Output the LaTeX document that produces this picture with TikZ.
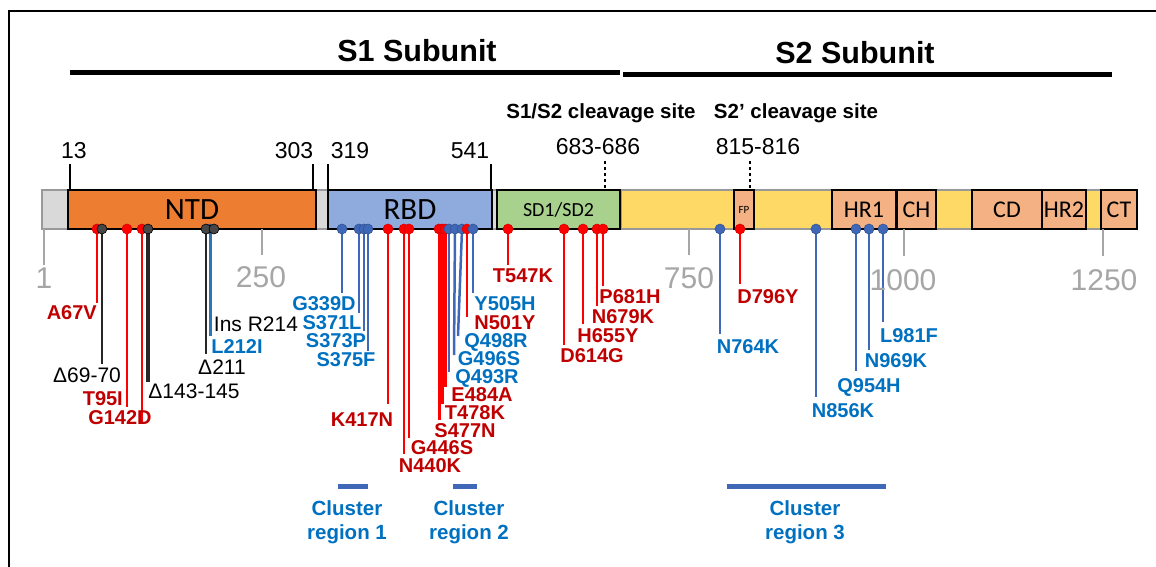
\documentclass[tikz,border=0pt]{standalone}
\usepackage{fontspec}
\setmainfont{Liberation Sans}
\newfontfamily\calf{Carlito}
\usetikzlibrary{positioning}
\definecolor{ntdc}{HTML}{ED7D31}
\definecolor{rbdc}{HTML}{8FAADC}
\definecolor{sdc}{HTML}{A9D18E}
\definecolor{s2c}{HTML}{FFD966}
\definecolor{boxc}{HTML}{F4B183}
\definecolor{bbc}{HTML}{D9D9D9}
\definecolor{rulec}{HTML}{A6A6A6}
\definecolor{redl}{HTML}{FF0000}
\definecolor{redt}{HTML}{C00000}
\definecolor{bluel}{HTML}{3F68B8}
\definecolor{bluet}{HTML}{0070C0}
\definecolor{lbluel}{HTML}{2E75B6}
\definecolor{darkl}{HTML}{262626}
\pgfdeclarelayer{stems}
\pgfsetlayers{stems,main}

\begin{document}
\begin{tikzpicture}[
    x=1pt, y=-1pt,
    subt/.style={font=\bfseries\fontsize{30.5}{30.5}\selectfont, inner sep=0pt},
    cleav/.style={font=\bfseries\fontsize{20.5}{20.5}\selectfont, inner sep=0pt},
    num/.style={font=\fontsize{23}{23}\selectfont, inner sep=0pt},
    rnum/.style={font=\fontsize{30}{30}\selectfont, text=rulec, inner sep=0pt},
    tick/.style={draw=black, line width=1.5pt},
    rtick/.style={draw=rulec, line width=2pt},
    bbone/.style={draw=gray!80, line width=1.4pt, minimum height=39pt, inner sep=0pt},
    seg/.style={draw=black, line width=1.4pt, minimum height=39pt, inner sep=0pt,
        font=\calf\fontsize{24}{24}\selectfont},
    rstem/.style={draw=redl, line width=2.5pt},
    bstem/.style={draw=bluel, line width=2.5pt},
    kstem/.style={draw=darkl, line width=2.8pt},
    rdot/.style={circle, fill=redl, draw=red!85!black, line width=0.6pt, inner sep=0pt, minimum size=10pt},
    bdot/.style={circle, fill=bluel, draw=bluel!80!black, line width=0.6pt, inner sep=0pt, minimum size=10pt},
    kdot/.style={circle, fill=darkl!85, draw=black, line width=0.6pt, inner sep=0pt, minimum size=10pt},
    rlab/.style={text=redt, font=\bfseries\fontsize{20}{20}\selectfont, inner sep=0pt,
        text height=14.5pt, text depth=0pt},
    blab/.style={text=bluet, font=\bfseries\fontsize{20}{20}\selectfont, inner sep=0pt,
        text height=14.5pt, text depth=0pt},
    klab/.style={text=black, font=\fontsize{21}{21}\selectfont, inner sep=0pt,
        text height=15pt, text depth=0pt},
    clab/.style={text=bluet, font=\bfseries\fontsize{20.5}{24}\selectfont, align=center, inner sep=0pt},
]
\useasboundingbox (0,0) rectangle (1156,567);
% ---------- frame ----------
\draw[line width=2pt] (9,567) -- (9,11) -- (1156,11);
% ---------- subunits ----------
\node[subt] (s1t) at (417,51) {S1 Subunit};
\node[subt] (s2t) at (855,53) {S2 Subunit};
\fill (70,70) rectangle (620,75);
\fill (623,72) rectangle (1112,77);
% ---------- cleavage sites and borders ----------
\node[cleav] (c1) at (601,113) {S1/S2 cleavage site};
\node[cleav] (c2) at (796,113) {S2' cleavage site};
\node[num] (n683) at (598,147) {683-686};
\node[num] (n815) at (758,147) {815-816};
\node[num] (n13)  at (74,151)  {13};
\node[num] (n303) at (294,151) {303};
\node[num] (n319) at (350,151) {319};
\node[num] (n541) at (470,151) {541};
\draw[tick] (70,164) -- (70,190);
\draw[tick] (313,164) -- (313,190);
\draw[tick] (328,164) -- (328,190);
\draw[tick] (491,164) -- (491,190);
\draw[tick, line width=2pt, dashed] (605,161) -- (605,190);
\draw[tick, line width=2pt, dashed] (750,161) -- (750,190);
% ---------- backbone and domains ----------
\node[bbone, fill=bbc, minimum width=1090pt] (bb) at (587,209.5) {};
\node[bbone, fill=s2c, minimum width=510pt] (s2) at (876,209.5) {};
\node[seg, fill=ntdc, minimum width=248pt, font=\calf\fontsize{31}{31}\selectfont] (ntd) at (192,209.5) {NTD};
\node[seg, fill=rbdc, minimum width=164pt, font=\calf\fontsize{31}{31}\selectfont] (rbd) at (410,209.5) {RBD};
\node[seg, fill=sdc, minimum width=123pt, font=\calf\fontsize{20}{20}\selectfont] (sd) at (558.5,209.5) {SD1/SD2};
\node[seg, fill=boxc, minimum width=20pt, font=\calf\fontsize{11}{11}\selectfont] (fp) at (744,209.5) {FP};
\node[seg, fill=boxc, minimum width=64pt] (hr1) at (864,209.5) {HR1};
\node[seg, fill=boxc, minimum width=39pt] (ch)  at (916.5,209.5) {CH};
\node[seg, fill=boxc, minimum width=70pt] (cd)  at (1007,209.5) {CD};
\node[seg, fill=boxc, minimum width=44pt] (hr2) at (1064,209.5) {HR2};
\node[seg, fill=boxc, minimum width=36pt] (ct)  at (1119,209.5) {CT};
% ---------- residue ruler ----------
\draw[rtick] (44,229) -- (44,265);
\draw[rtick] (262,229) -- (262,255);
\draw[rtick] (689,229) -- (689,255);
\draw[rtick] (904,229) -- (904,256);
\draw[rtick] (1103,229) -- (1103,256);
\node[rnum] (r1)    at (44,278)   {1};
\node[rnum] (r250)  at (261,277)  {250};
\node[rnum] (r750)  at (689,278)  {750};
\node[rnum] (r1000) at (903,280)  {1000};
\node[rnum] (r1250) at (1104,280) {1250};
% ---------- NTD mutations ----------
\node[rdot] (d67)  at (97,229)  {}; \coordinate (e67)  at (97,303);  \node[rlab, anchor=east] (l67) at (97,312) {A67V};
\node[kdot] (d69)  at (102,229) {}; \coordinate (e69)  at (102,364); \node[klab] (l69)  at (87,375)  {Δ69-70};
\node[rdot] (d95)  at (127,229) {}; \coordinate (e95)  at (127,407); \node[rlab, anchor=east] (l95) at (123,398) {T95I};
\node[rdot] (d142) at (142,229) {}; \coordinate (e142) at (142,423); \node[rlab] (l142) at (120,417) {G142D};
\node[kdot] (d143) at (148,229) {}; \coordinate (e143) at (148,382); \node[klab] (l143) at (194,391) {Δ143-145};
\node[bdot] (d212) at (210,229) {}; \coordinate (e212) at (210,336); \node[blab] (l212) at (237,346) {L212I};
\node[kdot] (d211) at (206,229) {}; \coordinate (e211) at (206,354); \node[klab] (l211) at (222,367) {Δ211};
\node[kdot] (d214) at (214,229) {};                                    \node[klab] (l214) at (256,324) {Ins R214};
% ---------- RBD mutations ----------
\node[bdot] (d339) at (342,229) {}; \coordinate (e339) at (342,293); \node[blab] (l339) at (324,303) {G339D};
\node[bdot] (d371) at (359,229) {}; \coordinate (e371) at (359,313); \node[blab] (l371) at (332,322) {S371L};
\node[bdot] (d373) at (364,229) {}; \coordinate (e373) at (364,331); \node[blab] (l373) at (336,340) {S373P};
\node[bdot] (d375) at (368,229) {}; \coordinate (e375) at (368,351); \node[blab] (l375) at (346,359) {S375F};
\node[rdot] (d417) at (388,229) {}; \coordinate (e417) at (388,404); \node[rlab] (l417) at (362,419) {K417N};
\node[rdot] (d440) at (404,229) {}; \coordinate (e440) at (404,454); \node[rlab] (l440) at (430,465) {N440K};
\node[rdot] (d446) at (409,229) {}; \coordinate (e446) at (409,438); \node[rlab] (l446) at (442,447) {G446S};
\node[rdot] (d477) at (439,229) {}; \coordinate (e477) at (439,420); \node[rlab] (l477) at (465,430) {S477N};
\node[rdot] (d478) at (442,229) {}; \coordinate (e478) at (442,404); \node[rlab] (l478) at (475,412) {T478K};
\node[rdot] (d484) at (445,229) {}; \coordinate (e484) at (445,387); \node[rlab] (l484) at (482,394) {E484A};
\node[bdot] (d493) at (449,229) {}; \coordinate (e493) at (449,372); \node[blab] (l493) at (487,376) {Q493R};
\node[bdot] (d496) at (455,229) {}; \coordinate (e496) at (454,355); \node[blab] (l496) at (489,358) {G496S};
\node[bdot] (d498) at (462,229) {}; \coordinate (e498) at (458,336); \node[blab] (l498) at (496,340) {Q498R};
\node[rdot] (d501) at (467,229) {}; \coordinate (e501) at (467,317); \node[rlab] (l501) at (505,322) {N501Y};
\node[bdot] (d505) at (473,229) {}; \coordinate (e505) at (473,293); \node[blab] (l505) at (505,303) {Y505H};
% ---------- SD1/SD2 mutations ----------
\node[rdot] (d547) at (508,229) {}; \coordinate (e547) at (508,265); \node[rlab] (l547) at (523,275) {T547K};
\node[rdot] (d614) at (564,229) {}; \coordinate (e614) at (564,345); \node[rlab] (l614) at (592,355) {D614G};
\node[rdot] (d655) at (583,229) {}; \coordinate (e655) at (583,324); \node[rlab] (l655) at (608,335) {H655Y};
\node[rdot] (d679) at (597,229) {}; \coordinate (e679) at (597,306); \node[rlab] (l679) at (623,316) {N679K};
\node[rdot] (d681) at (603,229) {}; \coordinate (e681) at (603,286); \node[rlab] (l681) at (630,296) {P681H};
% ---------- S2 mutations ----------
\node[bdot] (d764) at (720,229) {}; \coordinate (e764) at (720,334); \node[blab] (l764) at (748,346) {N764K};
\node[rdot] (d796) at (740,229) {}; \coordinate (e796) at (740,284); \node[rlab] (l796) at (768,296) {D796Y};
\node[bdot] (d856) at (816,229) {}; \coordinate (e856) at (816,397); \node[blab] (l856) at (843,410) {N856K};
\node[bdot] (d954) at (856,229) {}; \coordinate (e954) at (856,371); \node[blab] (l954) at (869,385) {Q954H};
\node[bdot] (d969) at (869,229) {}; \coordinate (e969) at (869,350); \node[blab] (l969) at (896,360) {N969K};
\node[bdot] (d981) at (883,229) {}; \coordinate (e981) at (883,322); \node[blab] (l981) at (909,335) {L981F};
% ===================== STEMS =====================
\begin{pgfonlayer}{stems}
\draw[rstem] (d67.center) -- (e67);
\draw[kstem] (d69.center) -- (e69);
\draw[rstem] (d95.center) -- (e95);
\draw[rstem] (d142.center) -- (e142);
\draw[kstem, line width=3.2pt] (d143.center) -- (e143);
\draw[kstem] (d211.center) -- (e211);
\draw[draw=lbluel, line width=3pt] (d212.center) -- (e212);
\draw[bstem] (d339.center) -- (e339);
\draw[bstem] (d371.center) -- (e371);
\draw[bstem] (d373.center) -- (e373);
\draw[bstem] (d375.center) -- (e375);
\draw[rstem] (d417.center) -- (e417);
\draw[rstem] (d440.center) -- (e440);
\draw[rstem] (d446.center) -- (e446);
\draw[rstem, line width=3pt] (d477.center) -- (e477);
\draw[rstem, line width=3pt] (d478.center) -- (e478);
\draw[rstem, line width=3pt] (d484.center) -- (e484);
\draw[bstem] (d493.center) -- (e493);
\draw[bstem] (d496.center) -- (e496);
\draw[bstem] (d498.center) -- (e498);
\draw[rstem] (d501.center) -- (e501);
\draw[bstem] (d505.center) -- (e505);
\draw[rstem] (d547.center) -- (e547);
\draw[rstem] (d614.center) -- (e614);
\draw[rstem] (d655.center) -- (e655);
\draw[rstem] (d679.center) -- (e679);
\draw[rstem] (d681.center) -- (e681);
\draw[bstem] (d764.center) -- (e764);
\draw[rstem] (d796.center) -- (e796);
\draw[bstem] (d856.center) -- (e856);
\draw[bstem] (d954.center) -- (e954);
\draw[bstem] (d969.center) -- (e969);
\draw[bstem] (d981.center) -- (e981);
\end{pgfonlayer}
% ---------- cluster regions ----------
\fill[bluel] (338,484) rectangle (368,489);
\fill[bluel] (453,484) rectangle (477,489);
\fill[bluel] (727,484) rectangle (886,489);
\node[clab] (cl1) at (347,522) {Cluster\\region 1};
\node[clab] (cl2) at (469,522) {Cluster\\region 2};
\node[clab] (cl3) at (805,522) {Cluster\\region 3};
\end{tikzpicture}
\end{document}
